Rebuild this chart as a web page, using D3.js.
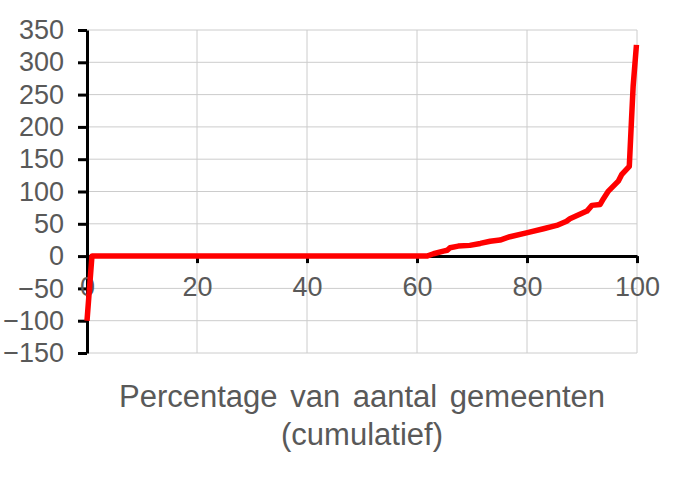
<!DOCTYPE html>
<html>
<head>
<meta charset="utf-8">
<script src="https://cdn.jsdelivr.net/npm/d3@7"></script>
<style>
  body { margin: 0; background: #fff; }
  text { font-family: "Liberation Sans", Arial, sans-serif; fill: #595959; }
</style>
</head>
<body>
<svg id="drawing_region"></svg>
<script>
// cumulative percentage of municipalities (x) and value (y)
const pctX = [0, 0.9, 10, 30, 50, 61.8, 63.0, 64.8, 65.5, 66.0, 67.5, 69.6, 71.5, 73.3, 75.1, 76.9,
              79.9, 83.0, 85.4, 87.2, 87.8, 90.9, 91.8, 93.3, 93.9, 94.8, 96.6, 97.2, 98.6, 99.0, 99.3, 99.9];
const values = [-100, 0, 0, 0, 0, 0, 3.6, 7.7, 9, 13, 15.5, 16.6, 19.6, 23, 24.8, 30,
                36, 42.4, 47.5, 54, 57.8, 69.7, 78.5, 80, 88.8, 100.6, 116, 126, 139, 211, 263, 327];
const xTicks = [0, 20, 40, 60, 80, 100];
const yTicks = [-150, -100, -50, 0, 50, 100, 150, 200, 250, 300, 350];
const xTitle = ["Percentage van aantal gemeenten", "(cumulatief)"];

const config = {
    parent: '#drawing_region',
    width: 688,
    height: 486,
    margin: { top: 30, right: 51, bottom: 133, left: 87 }
};

const svg = d3.select(config.parent)
    .attr('width', config.width)
    .attr('height', config.height);

const innerW = config.width - config.margin.left - config.margin.right;
const innerH = config.height - config.margin.top - config.margin.bottom;

const chart = svg.append('g')
    .attr('transform', `translate(${config.margin.left}, ${config.margin.top})`);

const xScale = d3.scaleLinear().domain([0, 100]).range([0, innerW]);
const yScale = d3.scaleLinear().domain([-150, 350]).range([innerH, 0]);

// gridlines
chart.selectAll('.hgrid')
    .data(yTicks)
    .enter()
    .append('line')
    .attr('x1', 0).attr('x2', innerW)
    .attr('y1', d => yScale(d)).attr('y2', d => yScale(d))
    .attr('stroke', '#cccccc').attr('stroke-width', 1);

chart.selectAll('.vgrid')
    .data(xTicks.filter(d => d > 0))
    .enter()
    .append('line')
    .attr('x1', d => xScale(d)).attr('x2', d => xScale(d))
    .attr('y1', 0).attr('y2', innerH)
    .attr('stroke', '#cccccc').attr('stroke-width', 1);

// y axis
const yAxis = chart.append('g')
    .call(d3.axisLeft(yScale).tickValues(yTicks).tickSize(9).tickPadding(14).tickSizeOuter(0));
yAxis.select('.domain').attr('stroke', '#000').attr('stroke-width', 3);
yAxis.selectAll('.tick line').attr('stroke', '#000').attr('stroke-width', 3);
yAxis.selectAll('.tick text')
    .attr('fill', '#595959')
    .style('font-size', '27px')
    .attr('font-family', '"Liberation Sans", Arial, sans-serif');

// x axis at y = 0
const xAxis = chart.append('g')
    .attr('transform', `translate(0, ${yScale(0)})`)
    .call(d3.axisBottom(xScale).tickValues(xTicks).tickSize(7).tickPadding(14).tickSizeOuter(0));
xAxis.select('.domain').attr('stroke', '#000').attr('stroke-width', 3);
xAxis.selectAll('.tick line').attr('stroke', '#000').attr('stroke-width', 3);
xAxis.selectAll('.tick text')
    .attr('fill', '#595959')
    .style('font-size', '27px')
    .attr('font-family', '"Liberation Sans", Arial, sans-serif');

// the curve
const line = d3.line()
    .x((d, i) => xScale(pctX[i]))
    .y(d => yScale(d));

chart.append('path')
    .datum(values)
    .attr('d', line)
    .attr('fill', 'none')
    .attr('stroke', '#ff0000')
    .attr('stroke-width', 5.5)
    .attr('stroke-linejoin', 'round');

// axis title
svg.selectAll('.xtitle')
    .data(xTitle)
    .enter()
    .append('text')
    .attr('x', config.margin.left + innerW / 2)
    .attr('y', (d, i) => 407 + i * 38)
    .attr('text-anchor', 'middle')
    .style('font-size', '31px')
    .style('word-spacing', '4px')
    .text(d => d);
</script>
</body>
</html>
